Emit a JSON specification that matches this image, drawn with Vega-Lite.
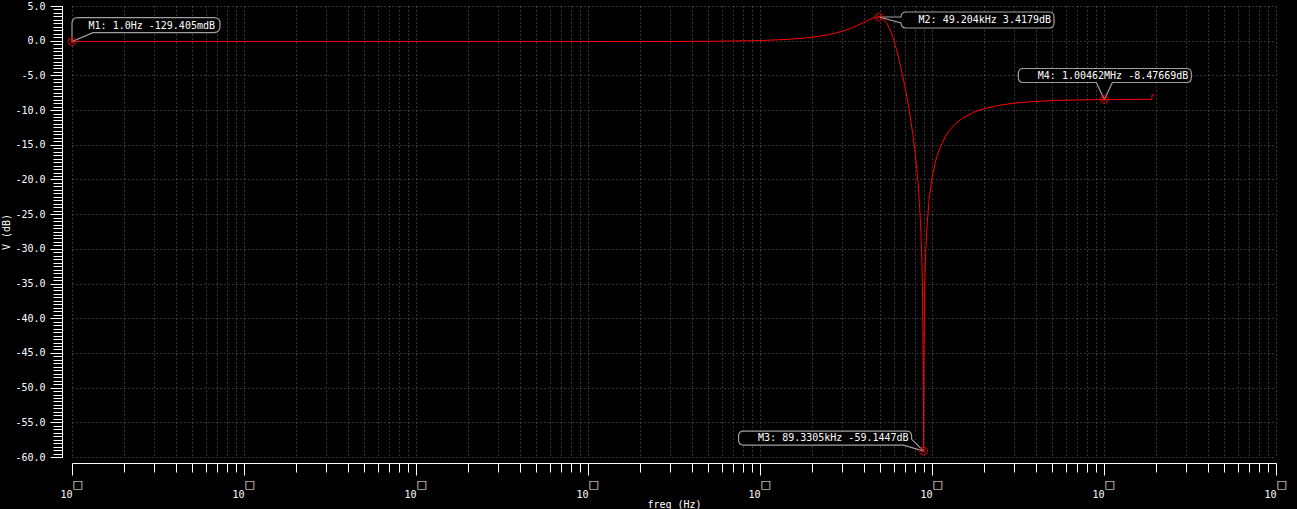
{
  "$schema": "https://vega.github.io/schema/vega-lite/v6.json",
  "width": 1204,
  "height": 451,
  "autosize": {"type": "none"},
  "padding": {"left": 72, "top": 6, "right": 21, "bottom": 52},
  "background": "#000000",
  "config": {
    "view": {"stroke": null},
    "axis": {
      "labelFont": "DejaVu Sans Mono",
      "titleFont": "DejaVu Sans Mono",
      "labelFontSize": 10,
      "titleFontSize": 10,
      "titleFontWeight": "normal",
      "labelColor": "#ffffff",
      "titleColor": "#ffffff",
      "tickColor": "#ffffff",
      "domainColor": "#ffffff",
      "domainWidth": 1,
      "tickWidth": 1,
      "gridColor": "#686868",
      "gridDash": [1, 3],
      "gridWidth": 1,
      "labelFlush": false,
      "labelOverlap": false
    }
  },
  "datasets": {
    "curve": [
      {"f": 1, "db": -0.129},
      {"f": 10, "db": -0.129},
      {"f": 100, "db": -0.129},
      {"f": 1000, "db": -0.128},
      {"f": 2000, "db": -0.123},
      {"f": 5000, "db": -0.093},
      {"f": 10000, "db": 0.018},
      {"f": 15000, "db": 0.207},
      {"f": 20000, "db": 0.484},
      {"f": 25000, "db": 0.858},
      {"f": 30000, "db": 1.342},
      {"f": 35000, "db": 1.938},
      {"f": 40000, "db": 2.615},
      {"f": 45000, "db": 3.231},
      {"f": 47000, "db": 3.382},
      {"f": 49204, "db": 3.4179},
      {"f": 51000, "db": 3.298},
      {"f": 52000, "db": 3.162},
      {"f": 55000, "db": 2.412},
      {"f": 57500, "db": 1.392},
      {"f": 60000, "db": 0.068},
      {"f": 62500, "db": -1.482},
      {"f": 65000, "db": -3.189},
      {"f": 67500, "db": -5.013},
      {"f": 70000, "db": -6.943},
      {"f": 72500, "db": -8.987},
      {"f": 75000, "db": -11.188},
      {"f": 77500, "db": -13.616},
      {"f": 80000, "db": -16.399},
      {"f": 82000, "db": -19.043},
      {"f": 83000, "db": -20.582},
      {"f": 84500, "db": -23.32},
      {"f": 86000, "db": -26.928},
      {"f": 87000, "db": -30.28},
      {"f": 88000, "db": -35.406},
      {"f": 89000, "db": -47.88},
      {"f": 89330.5, "db": -59.1447},
      {"f": 89800, "db": -44.69},
      {"f": 90500, "db": -36.99},
      {"f": 91500, "db": -31.87},
      {"f": 93000, "db": -27.64},
      {"f": 96000, "db": -23.07},
      {"f": 100000, "db": -19.76},
      {"f": 105000, "db": -17.307},
      {"f": 110000, "db": -15.713},
      {"f": 120000, "db": -13.733},
      {"f": 125000, "db": -13.073},
      {"f": 135000, "db": -12.11},
      {"f": 150000, "db": -11.183},
      {"f": 175000, "db": -10.302},
      {"f": 200000, "db": -9.805},
      {"f": 250000, "db": -9.28},
      {"f": 300000, "db": -9.0},
      {"f": 400000, "db": -8.74},
      {"f": 500000, "db": -8.63},
      {"f": 700000, "db": -8.54},
      {"f": 1004620, "db": -8.47669},
      {"f": 1500000, "db": -8.46},
      {"f": 1900000, "db": -8.455},
      {"f": 1902000, "db": -7.82},
      {"f": 1960000, "db": -7.82}
    ],
    "markers": [
      {"id": "M1", "f": 1, "db": -0.129405, "label": "M1: 1.0Hz -129.405mdB"},
      {"id": "M2", "f": 49204, "db": 3.4179, "label": "M2: 49.204kHz 3.4179dB"},
      {"id": "M3", "f": 89330.5, "db": -59.1447, "label": "M3: 89.3305kHz -59.1447dB"},
      {"id": "M4", "f": 1004620, "db": -8.47669, "label": "M4: 1.00462MHz -8.47669dB"}
    ]
  },
  "layer": [
    {
      "data": {"name": "curve"},
      "mark": {"type": "line", "color": "#ff0000", "strokeWidth": 1, "clip": true},
      "encoding": {
        "x": {
          "field": "f", "type": "quantitative",
          "scale": {"type": "log", "domain": [1, 10000000], "nice": false},
          "axis": {
            "orient": "bottom",
            "values": [1, 10, 100, 1000, 10000, 100000, 1000000, 10000000],
            "labelExpr": "'10'",
            "labelAlign": "right",
            "labelDx": -1,
            "labelBaseline": "alphabetic",
            "labelPadding": 22,
            "tickSize": 12,
            "offset": 6,
            "grid": true,
            "title": "freq (Hz)",
            "titleY": 36,
            "titleBaseline": "top"
          }
        },
        "y": {
          "field": "db", "type": "quantitative",
          "scale": {"domain": [-60, 5], "nice": false, "zero": false},
          "axis": {
            "orient": "left",
            "values": [-60, -55, -50, -45, -40, -35, -30, -25, -20, -15, -10, -5, 0, 5],
            "labelExpr": "replace(format(datum.value, '.1f'), '\u2212', '-')",
            "tickSize": 12,
            "labelPadding": 5,
            "offset": 10,
            "grid": true,
            "title": "V (dB)",
            "titleX": -51,
            "titleBaseline": "bottom",
            "titleAngle": 270
          }
        }
      }
    },
    {
      "data": {"name": "markers"},
      "transform": [{"filter": "datum.id === 'M1'"}],
      "mark": {"type": "point", "shape": "M 0,-18 Q 0,-24 6,-24 L 142,-24 Q 148,-24 148,-18 L 148,-15 Q 148,-9 142,-9 L 21,-9 L 0,0 Z", "size": 4, "filled": true, "fill": "#000000", "stroke": "#a0a0a0", "strokeWidth": 1.2, "opacity": 1},
      "encoding": {
        "x": {"field": "f", "type": "quantitative", "axis": null},
        "y": {"field": "db", "type": "quantitative", "axis": null}
      }
    },
    {
      "data": {"name": "markers"},
      "transform": [{"filter": "datum.id === 'M2'"}],
      "mark": {"type": "point", "shape": "M 27,-5 L 170,-5 Q 175,-5 175,0 L 175,6 Q 175,11 170,11 L 27,11 Q 22,11 22,6 L 0,0 L 22,0 Q 22,-5 27,-5 Z", "size": 4, "filled": true, "fill": "#000000", "stroke": "#a0a0a0", "strokeWidth": 1.2, "opacity": 1},
      "encoding": {
        "x": {"field": "f", "type": "quantitative", "axis": null},
        "y": {"field": "db", "type": "quantitative", "axis": null}
      }
    },
    {
      "data": {"name": "markers"},
      "transform": [{"filter": "datum.id === 'M3'"}],
      "mark": {"type": "point", "shape": "M -180,-20 L -17,-20 Q -12,-20 -12,-15 L -12,-12 L 0,0 L -20,-6 L -180,-6 Q -185,-6 -185,-11 L -185,-15 Q -185,-20 -180,-20 Z", "size": 4, "filled": true, "fill": "#000000", "stroke": "#a0a0a0", "strokeWidth": 1.2, "opacity": 1},
      "encoding": {
        "x": {"field": "f", "type": "quantitative", "axis": null},
        "y": {"field": "db", "type": "quantitative", "axis": null}
      }
    },
    {
      "data": {"name": "markers"},
      "transform": [{"filter": "datum.id === 'M4'"}],
      "mark": {"type": "point", "shape": "M -81,-31 L 82,-31 Q 87,-31 87,-26 L 87,-22 Q 87,-17 82,-17 L 8,-17 L 0,0 L -8,-17 L -81,-17 Q -86,-17 -86,-22 L -86,-26 Q -86,-31 -81,-31 Z", "size": 4, "filled": true, "fill": "#000000", "stroke": "#a0a0a0", "strokeWidth": 1.2, "opacity": 1},
      "encoding": {
        "x": {"field": "f", "type": "quantitative", "axis": null},
        "y": {"field": "db", "type": "quantitative", "axis": null}
      }
    },
    {
      "data": {"name": "markers"},
      "transform": [{"filter": "datum.id === 'M1'"}],
      "mark": {"type": "text", "font": "DejaVu Sans Mono", "fontSize": 10, "color": "#ffffff", "align": "right", "baseline": "middle", "dx": 143, "dy": -16},
      "encoding": {
        "x": {
          "field": "f", "type": "quantitative",
          "axis": {
            "orient": "bottom",
            "values": [1, 10, 100, 1000, 10000, 100000, 1000000, 10000000],
            "labelExpr": "'\u25a1'",
            "labelAlign": "left",
            "labelBaseline": "alphabetic",
            "labelPadding": 24,
            "labelFont": "DejaVu Sans",
            "labelFontSize": 11,
            "labelColor": "#ffffff",
            "labelDx": -2,
            "ticks": false,
            "tickSize": 0,
            "domain": false,
            "grid": false,
            "offset": 6,
            "title": null
          }
        },
        "y": {"field": "db", "type": "quantitative", "axis": null},
        "text": {"field": "label"}
      }
    },
    {
      "data": {"name": "markers"},
      "transform": [{"filter": "datum.id === 'M2'"}],
      "mark": {"type": "text", "font": "DejaVu Sans Mono", "fontSize": 10, "color": "#ffffff", "align": "right", "baseline": "middle", "dx": 172, "dy": 3},
      "encoding": {
        "x": {"field": "f", "type": "quantitative", "axis": null},
        "y": {"field": "db", "type": "quantitative", "axis": null},
        "text": {"field": "label"}
      }
    },
    {
      "data": {"name": "markers"},
      "transform": [{"filter": "datum.id === 'M3'"}],
      "mark": {"type": "text", "font": "DejaVu Sans Mono", "fontSize": 10, "color": "#ffffff", "align": "right", "baseline": "middle", "dx": -15, "dy": -13},
      "encoding": {
        "x": {"field": "f", "type": "quantitative", "axis": null},
        "y": {"field": "db", "type": "quantitative", "axis": null},
        "text": {"field": "label"}
      }
    },
    {
      "data": {"name": "markers"},
      "transform": [{"filter": "datum.id === 'M4'"}],
      "mark": {"type": "text", "font": "DejaVu Sans Mono", "fontSize": 10, "color": "#ffffff", "align": "right", "baseline": "middle", "dx": 84, "dy": -24},
      "encoding": {
        "x": {"field": "f", "type": "quantitative", "axis": null},
        "y": {"field": "db", "type": "quantitative", "axis": null},
        "text": {"field": "label"}
      }
    },
    {
      "data": {"name": "markers"},
      "mark": {"type": "point", "shape": "M -4,0 A 4,4 0 1,1 4,0 A 4,4 0 1,1 -4,0 M -2.8,-2.8 L 2.8,2.8 M -2.8,2.8 L 2.8,-2.8", "size": 4, "filled": false, "stroke": "#d00000", "strokeWidth": 1, "opacity": 1},
      "encoding": {
        "x": {
          "field": "f", "type": "quantitative",
          "axis": {
            "orient": "bottom",
            "values": [2,3,4,5,6,7,8,9,20,30,40,50,60,70,80,90,200,300,400,500,600,700,800,900,2000,3000,4000,5000,6000,7000,8000,9000,20000,30000,40000,50000,60000,70000,80000,90000,200000,300000,400000,500000,600000,700000,800000,900000,2000000,3000000,4000000,5000000,6000000,7000000,8000000,9000000],
            "labels": false,
            "tickSize": 9,
            "domain": false,
            "grid": true,
            "offset": 6,
            "title": null
          }
        },
        "y": {
          "field": "db", "type": "quantitative",
          "axis": {
            "orient": "left",
            "values": [-60,-59.5,-59,-58.5,-58,-57.5,-57,-56.5,-56,-55.5,-55,-54.5,-54,-53.5,-53,-52.5,-52,-51.5,-51,-50.5,-50,-49.5,-49,-48.5,-48,-47.5,-47,-46.5,-46,-45.5,-45,-44.5,-44,-43.5,-43,-42.5,-42,-41.5,-41,-40.5,-40,-39.5,-39,-38.5,-38,-37.5,-37,-36.5,-36,-35.5,-35,-34.5,-34,-33.5,-33,-32.5,-32,-31.5,-31,-30.5,-30,-29.5,-29,-28.5,-28,-27.5,-27,-26.5,-26,-25.5,-25,-24.5,-24,-23.5,-23,-22.5,-22,-21.5,-21,-20.5,-20,-19.5,-19,-18.5,-18,-17.5,-17,-16.5,-16,-15.5,-15,-14.5,-14,-13.5,-13,-12.5,-12,-11.5,-11,-10.5,-10,-9.5,-9,-8.5,-8,-7.5,-7,-6.5,-6,-5.5,-5,-4.5,-4,-3.5,-3,-2.5,-2,-1.5,-1,-0.5,0,0.5,1,1.5,2,2.5,3,3.5,4,4.5,5],
            "labels": false,
            "tickSize": 9,
            "domain": false,
            "grid": false,
            "offset": 10,
            "title": null
          }
        }
      }
    }
  ],
  "resolve": {"axis": {"x": "independent", "y": "independent"}}
}
